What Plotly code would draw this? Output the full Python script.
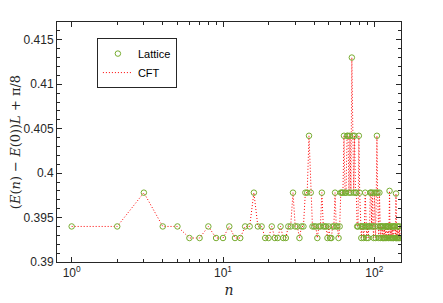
import math
import plotly.graph_objects as go

# state index
n_vals = list(range(1, 149))

# scaled gap (E(n)-E(0))L + pi/8
gap_vals = [
    0.3940, 0.3940, 0.3978, 0.3940, 0.3940, 0.3927, 0.3927, 0.3940, 0.3927, 0.3927,
    0.3940, 0.3927, 0.3927, 0.3940, 0.3940, 0.3978, 0.3940, 0.3940, 0.3927, 0.3927,
    0.3940, 0.3927, 0.3927, 0.3940, 0.3927, 0.3927, 0.3940, 0.3940, 0.3978, 0.3940,
    0.3940, 0.3927, 0.3940, 0.3940, 0.3978, 0.3978, 0.4042, 0.3978, 0.3940, 0.3940,
    0.3940, 0.3927, 0.3940, 0.3940, 0.3978, 0.3940, 0.3940, 0.3940, 0.3927, 0.3940,
    0.3927, 0.3927, 0.3940, 0.3940, 0.3978, 0.3940, 0.3940, 0.3927, 0.3940, 0.3978,
    0.3978, 0.3978, 0.4042, 0.3978, 0.3978, 0.4042, 0.4042, 0.3978, 0.4042, 0.3978,
    0.4130, 0.4042, 0.3978, 0.4042, 0.3978, 0.3978, 0.3940, 0.3940, 0.4042, 0.3978,
    0.3940, 0.3927, 0.3940, 0.3940, 0.3927, 0.3940, 0.3978, 0.3940, 0.3927, 0.3940,
    0.3927, 0.3940, 0.3940, 0.3978, 0.3978, 0.3940, 0.3978, 0.3940, 0.3927, 0.3978,
    0.3940, 0.3927, 0.3978, 0.4042, 0.3978, 0.3940, 0.3927, 0.3978, 0.3940, 0.3927,
    0.3940, 0.3940, 0.3927, 0.3940, 0.3927, 0.3927, 0.3940, 0.3927, 0.3940, 0.3940,
    0.3927, 0.3940, 0.3940, 0.3927, 0.3940, 0.3980, 0.3927, 0.3940, 0.3927, 0.3940,
    0.3927, 0.3940, 0.3927, 0.3927, 0.3940, 0.3940, 0.3940, 0.3927, 0.3977, 0.3927,
    0.3927, 0.3940, 0.3927, 0.3940, 0.3927, 0.3927, 0.3940, 0.3927,
]

y_ticks = [0.39, 0.395, 0.4, 0.405, 0.41, 0.415]
y_labels = ["0.39", "0.395", "0.4", "0.405", "0.41", "0.415"]
x_ticks = [1, 10, 100]
x_labels = ["10<sup>0</sup>", "10<sup>1</sup>", "10<sup>2</sup>"]
x_minor = [2, 3, 4, 5, 6, 7, 8, 9, 20, 30, 40, 50, 60, 70, 80, 90]

axis_col = "#262626"

fig = go.Figure()

# CFT curve, dotted red
fig.add_trace(go.Scatter(
    x=n_vals, y=gap_vals, name="CFT", mode="lines",
    line=dict(color="#ff0000", width=1, dash="1px,2px"),
))
# lattice data, open green circles
fig.add_trace(go.Scatter(
    x=n_vals, y=gap_vals, name="Lattice", mode="markers",
    marker=dict(symbol="circle-open", size=5.5, color="#77ac30", line=dict(width=1)),
))

fig.update_xaxes(
    type="log", range=[math.log10(0.8), math.log10(150)], automargin=False,
    tickvals=x_ticks, ticktext=x_labels,
    ticks="inside", ticklen=5, tickcolor=axis_col, mirror="allticks",
    showline=True, linecolor=axis_col, linewidth=1, showgrid=False, zeroline=False,
    minor=dict(tickvals=x_minor, ticks="inside", ticklen=3, tickcolor=axis_col, showgrid=False),
    tickfont=dict(family="Liberation Sans", size=12, color=axis_col),
    title=dict(text="<i>n</i>", font=dict(family="DejaVu Serif", size=14, color=axis_col), standoff=5),
)
fig.update_yaxes(
    range=[0.39, 0.417], automargin=False,
    tickvals=y_ticks, ticktext=y_labels,
    ticks="inside", ticklen=5, tickcolor=axis_col, mirror="allticks",
    showline=True, linecolor=axis_col, linewidth=1, showgrid=False, zeroline=False,
    minor=dict(ticks="inside", ticklen=3, tickcolor=axis_col, tick0=0.39, dtick=0.001, showgrid=False),
    tickfont=dict(family="Liberation Sans", size=12, color=axis_col),
    title=dict(text="(<i>E</i>(<i>n</i>) \u2212 <i>E</i>(0))<i>L</i> + \u03c0/8",
               font=dict(family="DejaVu Serif", size=13, color=axis_col), standoff=8),
)

# the page puts the plot 8px in from the corner, so the figure is sized to fit
fig.update_layout(
    width=435, height=295,
    margin=dict(l=49, r=42, t=14, b=41),
    paper_bgcolor="white", plot_bgcolor="white",
    showlegend=True,
    legend=dict(
        x=0.116, y=0.933, xanchor="left", yanchor="top",
        bgcolor="white", bordercolor=axis_col, borderwidth=1,
        font=dict(family="Liberation Sans", size=11, color="black"),
        traceorder="reversed", itemwidth=30, tracegroupgap=0,
    ),
)

fig.write_html("out.html")
